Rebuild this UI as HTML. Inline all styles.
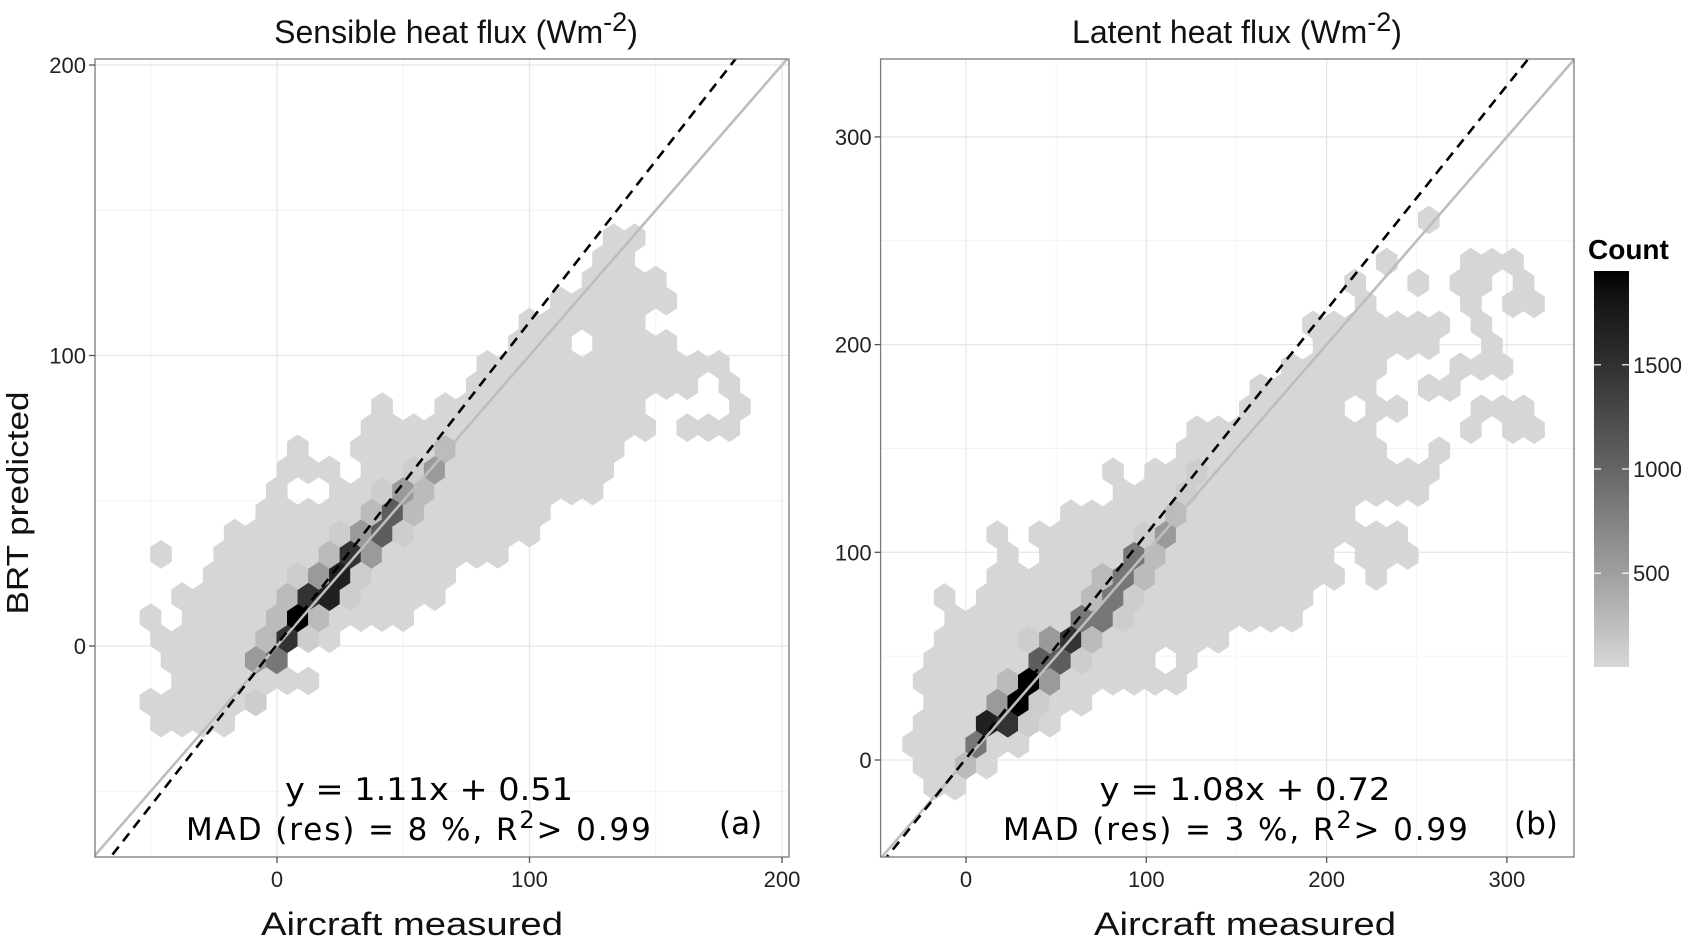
<!DOCTYPE html>
<html><head><meta charset="utf-8"><style>
html,body{margin:0;padding:0;background:#fff;}
svg{display:block;}
text{font-family:"Liberation Sans",sans-serif;}
.ann{font-family:"DejaVu Sans","Liberation Sans",sans-serif;}
</style></head><body>
<svg id="chart" width="1688" height="944" viewBox="0 0 1688 944" xmlns="http://www.w3.org/2000/svg">
<defs>
<clipPath id="clipL"><rect x="95" y="59" width="694" height="798"/></clipPath>
<clipPath id="clipR"><rect x="880.6" y="59" width="693.4" height="798"/></clipPath>
<linearGradient id="cbar" x1="0" y1="1" x2="0" y2="0"></linearGradient>
</defs>
<g id="panelL"></g>
<g id="panelR"></g>
<g id="legend"></g>
<text x="456" y="43" text-anchor="middle" font-size="32" fill="#111">Sensible heat flux (Wm<tspan font-size="27" dy="-12">-2</tspan><tspan dy="12">)</tspan></text>
<text x="1237" y="43" text-anchor="middle" font-size="32" fill="#111">Latent heat flux (Wm<tspan font-size="27" dy="-12">-2</tspan><tspan dy="12">)</tspan></text>
<text transform="translate(28,503) rotate(-90)" text-anchor="middle" font-size="31" fill="#111" textLength="223" lengthAdjust="spacingAndGlyphs">BRT predicted</text>
<text x="412" y="935" text-anchor="middle" font-size="32" fill="#111" textLength="302" lengthAdjust="spacingAndGlyphs">Aircraft measured</text>
<text x="1245" y="935" text-anchor="middle" font-size="32" fill="#111" textLength="302" lengthAdjust="spacingAndGlyphs">Aircraft measured</text>
<text class="ann" x="429" y="800" text-anchor="middle" font-size="31" fill="#000" textLength="288" lengthAdjust="spacingAndGlyphs">y = 1.11x + 0.51</text>
<text class="ann" x="186" y="840" font-size="31" letter-spacing="1.9" fill="#000">MAD (res) = 8 %, R<tspan font-size="24" dy="-12">2</tspan><tspan dy="12">&gt; 0.99</tspan></text>
<text class="ann" x="719" y="834" font-size="31" fill="#000">(a)</text>
<text class="ann" x="1245" y="800" text-anchor="middle" font-size="31" fill="#000" textLength="291" lengthAdjust="spacingAndGlyphs">y = 1.08x + 0.72</text>
<text class="ann" x="1003" y="840" font-size="31" letter-spacing="1.9" fill="#000">MAD (res) = 3 %, R<tspan font-size="24" dy="-12">2</tspan><tspan dy="12">&gt; 0.99</tspan></text>
<text class="ann" x="1514" y="834" font-size="31" fill="#000">(b)</text>
</svg>
<script>
// ---- data ----
const levelCounts = [0, 50, 126, 270, 544, 838, 1080, 1475, 1680, 1950];
const countMin = 50, countMax = 1950;
const legendTicks = [500, 1000, 1500];
const leftXTicks = [0, 100, 200];
const leftYTicks = [0, 100, 200];
const rightXTicks = [0, 100, 200, 300];
const rightYTicks = [0, 100, 200, 300];
const leftFit = [1.11, 0.51];
const rightFit = [1.08, 0.72];
// hex rows: [rowIndex, startCol, levels]
const leftRows = [
 [-1,0,"1111"],[0,0,"111112"],[1,1,"1111111"],[2,1,"111145"],[3,0,"111113721"],
 [4,0,"1.11113931111"],[5,1,"1111137821111"],[6,3,"111124821111"],[7,0,"1..11111374111111"],
 [8,4,"111112462111111"],[9,5,"11111363111111"],[10,6,"1..1124311111111"],[11,6,"111.112411111111"],
 [12,7,"1..1111311111111"],[13,10,"11111111111111.111"],[14,11,"1..1111111111....1"],
 [15,15,"11111111111.1"],[16,16,"111111111111"],[17,17,"111.1111"],[18,18,"111111"],
 [19,19,"111111"],[20,21,"1111"],[21,21,"11"],[22,22,"11"]
];
const rightRows = [
 [-3,1,"11"],[-2,1,"1131"],[-1,0,"111511"],[0,1,"1118721"],[1,1,"11149211"],
 [2,1,"1111394111111"],[3,1,"11111662111.1"],[4,2,"11112473111111"],[5,2,"11111155211111111"],
 [6,2,"1.1111135211111111"],[7,4,"11111353111111111.1"],[8,5,"1.11115311111111.111"],
 [9,4,"1.111112411111111111"],[10,8,"11111311111111"],[11,10,"111211111111111"],
 [12,10,"1.11211111111111"],[13,13,"1111111111..1"],[14,14,"111111111....1.11"],
 [15,16,"11111.11...111"],[16,17,"111111..11"],[17,18,"11111...111"],[18,20,"111111..1"],
 [19,19,"1111111.1"],[20,22,"1....1.11"],[21,21,"1..1.11.1"],[22,23,"1...111"],[24,25,"1"]
];
// hex grid in data units
const leftGrid = {ox:-50.1, bw:8.337, oy:-19.28, bh:7.263};
const rightGrid = {ox:-35.2, bw:11.675, oy:17.67, bh:10.096};

// ---- scales ----
const NS = "http://www.w3.org/2000/svg";
const L = {x0:95, x1:789, y0:59, y1:857, sx:v=>277+v*2.525, sy:v=>646-v*2.905, xmin:-72, xmax:202.4, ymin:-72.6, ymax:202, minor:[-50,50,150]};
const R = {x0:880.6, x1:1574, y0:59, y1:857, sx:v=>966+v*1.803, sy:v=>760-v*2.077, xmin:-47.4, xmax:337, ymin:-46.7, ymax:337.5, minor:[50,150,250]};

function grayFor(count){
  const t = Math.max(0, Math.min(1, (count-countMin)/(countMax-countMin)));
  const Ll = 85.8*(1-t);
  let Y = Ll>8 ? Math.pow((Ll+16)/116,3) : Ll/903.3;
  let s = Y<=0.0031308 ? 12.92*Y : 1.055*Math.pow(Y,1/2.4)-0.055;
  const g = Math.round(Math.max(0,Math.min(1,s))*255);
  return "rgb("+g+","+g+","+g+")";
}
function mk(tag, attrs, parent){
  const e = document.createElementNS(NS, tag);
  for (const k in attrs) e.setAttribute(k, attrs[k]);
  parent.appendChild(e); return e;
}

function drawPanel(g, S, rows, grid, xt, yt, fit, clipId, side){
  const bg = mk("rect",{x:S.x0,y:S.y0,width:S.x1-S.x0,height:S.y1-S.y0,fill:"#fff"},g);
  
  
  S.minor.forEach(v=>{
    const a = mk("line",{x1:S.sx(v),x2:S.sx(v),y1:S.y0,y2:S.y1,stroke:"#f4f4f4","stroke-width":1},g);
    
    
    const b = mk("line",{x1:S.x0,x2:S.x1,y1:S.sy(v),y2:S.sy(v),stroke:"#f4f4f4","stroke-width":1},g);
    
    
  });
  xt.forEach(v=>{
    const a = mk("line",{x1:S.sx(v),x2:S.sx(v),y1:S.y0,y2:S.y1,stroke:"#e6e6e6","stroke-width":1.2},g);
    
    
  });
  yt.forEach(v=>{
    const b = mk("line",{x1:S.x0,x2:S.x1,y1:S.sy(v),y2:S.sy(v),stroke:"#e6e6e6","stroke-width":1.2},g);
    
    
  });
  const hg = mk("g",{"clip-path":"url(#"+clipId+")"},g);
  
  
  const W = grid.bw*(S.sx(1)-S.sx(0));
  const s = grid.bh*(S.sy(0)-S.sy(1))/1.5;
  rows.forEach(([r, c0, str])=>{
    const odd = Math.abs(r)%2===1;
    for (let i=0;i<str.length;i++){
      const ch = str[i]; if (ch==='.') continue;
      const c = c0+i;
      const count = levelCounts[+ch];
      const cx = S.sx(grid.ox + (c + (odd?0.5:0))*grid.bw);
      const cy = S.sy(grid.oy + r*grid.bh);
      const pts = [[cx,cy-s],[cx+W/2,cy-s/2],[cx+W/2,cy+s/2],[cx,cy+s],[cx-W/2,cy+s/2],[cx-W/2,cy-s/2]]
        .map(p=>p[0].toFixed(2)+","+p[1].toFixed(2)).join(" ");
      const col = grayFor(count);
      const h = mk("polygon",{points:pts,fill:col,stroke:col,"stroke-width":0.6},hg);
      
      
    }
  });
  const lg = mk("g",{"clip-path":"url(#"+clipId+")"},g);
  const lo = Math.min(S.xmin,S.ymin)-5, hi = Math.max(S.xmax,S.ymax)+5;
  const one = mk("line",{x1:S.sx(lo),y1:S.sy(lo),x2:S.sx(hi),y2:S.sy(hi),stroke:"#bdbdbd","stroke-width":2.6},lg);
  
  
  const fl = mk("line",{x1:S.sx(lo),y1:S.sy(fit[0]*lo+fit[1]),x2:S.sx(hi),y2:S.sy(fit[0]*hi+fit[1]),stroke:"#000","stroke-width":2.6,"stroke-dasharray":"10 7"},lg);
  
  
  const bd = mk("rect",{x:S.x0,y:S.y0,width:S.x1-S.x0,height:S.y1-S.y0,fill:"none",stroke:"#7a7a7a","stroke-width":1.3},g);
  
  
  xt.forEach(v=>{
    const t = mk("line",{x1:S.sx(v),x2:S.sx(v),y1:S.y1,y2:S.y1+6,stroke:"#555","stroke-width":1.3},g);
    
    
    const l = mk("text",{x:S.sx(v),y:S.y1+30,"text-anchor":"middle","font-size":22,fill:"#222"},g);
    l.textContent = v;
    
    
  });
  yt.forEach(v=>{
    const t = mk("line",{x1:S.x0-6,x2:S.x0,y1:S.sy(v),y2:S.sy(v),stroke:"#555","stroke-width":1.3},g);
    
    
    const l = mk("text",{x:S.x0-9,y:S.sy(v)+8,"text-anchor":"end","font-size":22,fill:"#222"},g);
    l.textContent = v;
    
    
  });
}
drawPanel(document.getElementById("panelL"), L, leftRows, leftGrid, leftXTicks, leftYTicks, leftFit, "clipL", "left");
drawPanel(document.getElementById("panelR"), R, rightRows, rightGrid, rightXTicks, rightYTicks, rightFit, "clipR", "right");

(function(){
  const g = document.getElementById("legend");
  const grad = document.getElementById("cbar");
  for (let i=0;i<=20;i++){
    const c = countMin + (countMax-countMin)*i/20;
    mk("stop",{offset:(i/20*100)+"%","stop-color":grayFor(c)},grad);
  }
  const top=271, bot=667, x=1594, w=35;
  const cy = v => bot - (v-countMin)/(countMax-countMin)*(bot-top);
  const title = mk("text",{x:1588,y:259,"font-size":28,"font-weight":"bold",fill:"#000"},g);
  title.textContent = "Count";
  
  
  const bar = mk("rect",{x:x,y:top,width:w,height:bot-top,fill:"url(#cbar)"},g);
  
  
  legendTicks.forEach(v=>{
    const y = cy(v);
    const a = mk("line",{x1:x,x2:x+7,y1:y,y2:y,stroke:"#fff","stroke-width":1.2},g);
    
    
    const b = mk("line",{x1:x+w-7,x2:x+w,y1:y,y2:y,stroke:"#fff","stroke-width":1.2},g);
    
    
    const t = mk("text",{x:x+w+4,y:y+8,"font-size":22,fill:"#222"},g);
    t.textContent = v;
    
    
  });
})();
</script>
</body></html>
